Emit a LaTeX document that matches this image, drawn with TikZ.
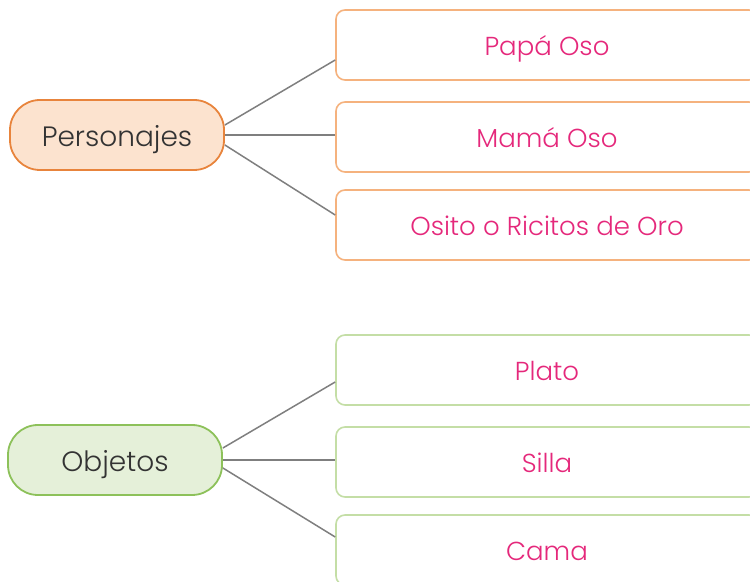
\documentclass[tikz,border=0pt]{standalone}
\usepackage{fontspec}
\setmainfont{Poppins Light}
\definecolor{orangeline}{HTML}{E8843C}
\definecolor{orangefill}{HTML}{FCE3CF}
\definecolor{orangebox}{HTML}{F5B27E}
\definecolor{greenline}{HTML}{8DC15A}
\definecolor{greenfill}{HTML}{E5F0D9}
\definecolor{greenbox}{HTML}{C4DEA6}
\definecolor{pinktext}{HTML}{E5287B}
\definecolor{greyline}{HTML}{7F7F7F}

\begin{document}
\begin{tikzpicture}[x=0.5pt,y=-0.5pt]
\tikzset{topic/.style={rounded corners=15pt,line width=0.9pt,minimum width=107pt,minimum height=35pt,text height=12pt,text depth=0pt,font=\fontsize{14}{16}\selectfont,text=black!80},
  item/.style={draw,rounded corners=4.5pt,line width=0.8pt,fill=white,minimum width=211pt,minimum height=35pt,text height=10.5pt,text depth=0pt,font=\fontsize{13}{15}\selectfont,text=pinktext},
  link/.style={greyline,line width=0.75pt}}
\useasboundingbox (0,0) rectangle (750,582);

\node[item,draw=orangebox] (papa) at (547,45) {Papá Oso};
\node[item,draw=orangebox] (mama) at (547,137) {Mamá Oso};
\node[item,draw=orangebox] (osito) at (547,225) {Osito o Ricitos de Oro};
\node[topic,draw=orangeline,fill=orangefill] (pers) at (117,135) {Personajes};
\draw[link] ([yshift=5pt]pers.east) -- ([yshift=-7.5pt]papa.west);
\draw[link] (pers.east) -- (pers.east -| mama.west);
\draw[link] ([yshift=-5pt]pers.east) -- ([yshift=5pt]osito.west);

\node[item,draw=greenbox] (plato) at (547,370) {Plato};
\node[item,draw=greenbox] (silla) at (547,462) {Silla};
\node[item,draw=greenbox] (cama) at (547,550) {Cama};
\node[topic,draw=greenline,fill=greenfill] (obj) at (115,460) {Objetos};
\draw[link] ([yshift=6pt]obj.east) -- ([yshift=-6pt]plato.west);
\draw[link] (obj.east) -- (obj.east -| silla.west);
\draw[link] ([yshift=-4pt]obj.east) -- ([yshift=6.5pt]cama.west);
\end{tikzpicture}
\end{document}
